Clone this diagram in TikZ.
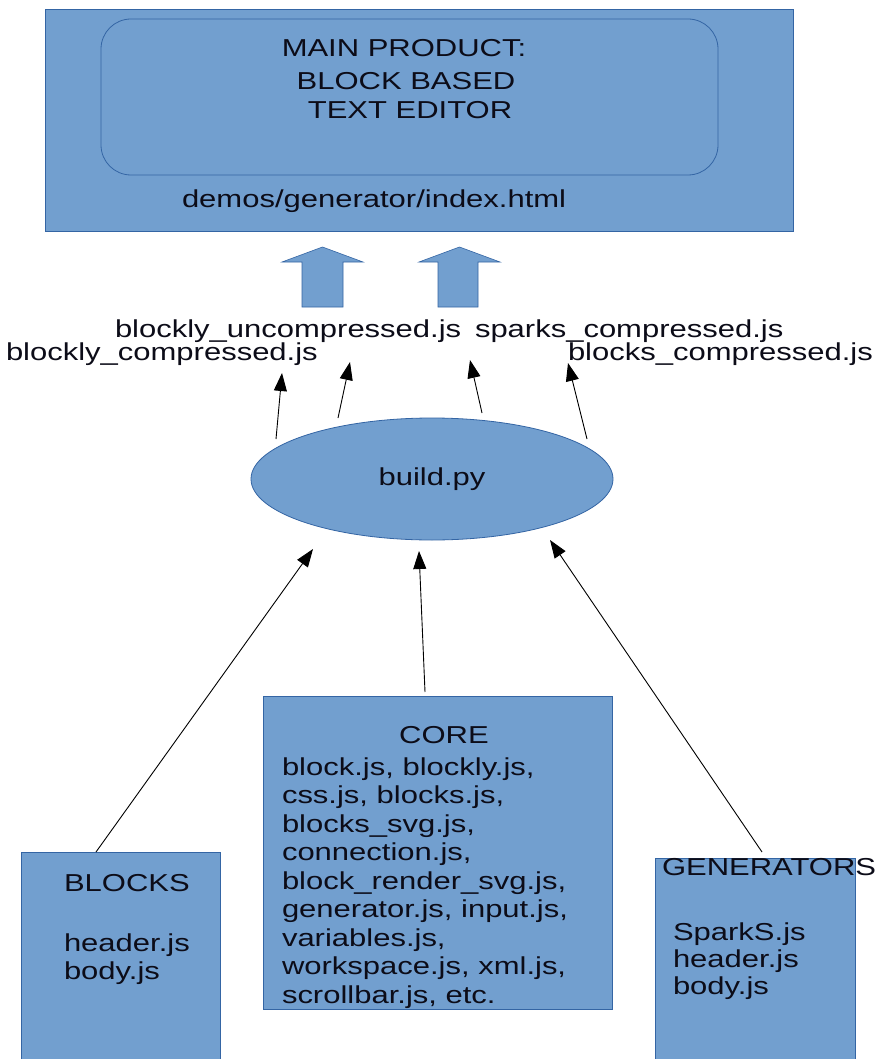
\documentclass[tikz,border=0pt]{standalone}
\usepackage{fontspec}
\setmainfont{Liberation Sans}[FakeStretch=1.265]
\usetikzlibrary{shapes.geometric,arrows.meta}
\definecolor{boxfill}{HTML}{729FCF}
\definecolor{boxline}{HTML}{3465A4}
\definecolor{ink}{HTML}{0C0C18}

\begin{document}
\begin{tikzpicture}[x=1pt,y=-1pt,
  every node/.style={inner sep=0pt, outer sep=0pt, text=ink,
                     font=\fontsize{24.5}{28}\selectfont},
  panel/.style={draw=boxline, fill=boxfill, line width=0.8pt},
  txt/.style={anchor=base west},
  ctxt/.style={anchor=base},
  link/.style={draw=black, line width=0.9pt, -{Triangle[length=18pt,width=13pt]}},
  fatarrow/.style={draw=boxline, fill=boxfill, line width=0.6pt, line join=miter}]

\useasboundingbox (0,0) rectangle (879,1059);
\fill[white] (0,0) rectangle (879,1059);

% product panel with its inner rounded frame
\node[panel, rectangle, minimum width=748pt, minimum height=222pt] (main) at (419,120) {};
\node[panel, rectangle, rounded corners=30pt, minimum width=617pt, minimum height=156pt] (product) at (409.5,97) {};
\node[ctxt] (title1) at (404,57) {MAIN PRODUCT:};
\node[ctxt] (title2) at (406,90) {BLOCK BASED};
\node[ctxt] (title3) at (410,119) {TEXT EDITOR};
\node[txt] (demo) at (182,208) {demos/generator/index.html};

% two broad arrows feeding the product
\draw[fatarrow] (302,307) -- (302,262) -- (282,262) -- (322.5,247) -- (363,262) -- (343,262) -- (343,307) -- cycle;
\draw[fatarrow] (438,307) -- (438,262) -- (419,262) -- (459.5,247) -- (500,262) -- (478,262) -- (478,307) -- cycle;

% generated files
\node[txt] (uncomp) at (115,337) {blockly\_uncompressed.js};
\node[txt] (sparks) at (475,337) {sparks\_compressed.js};
\node[txt] (bcomp) at (6,360) {blockly\_compressed.js};
\node[txt] (blkcomp) at (568,360) {blocks\_compressed.js};

% build script
\node[panel, ellipse, minimum width=362pt, minimum height=122pt] (build) at (432,479) {build.py};

% source groups
\node[panel, rectangle, minimum width=199pt, minimum height=212pt] (blocks) at (120.5,958) {};
\node[txt] (blocksT) at (64,891) {BLOCKS};
\node[txt] (blocks1) at (64,951) {header.js};
\node[txt] (blocks2) at (64,979) {body.js};

\node[panel, rectangle, minimum width=349pt, minimum height=313pt] (core) at (437.5,852.5) {};
\node[ctxt] (coreT) at (444,743) {CORE};
\node[txt] (core1) at (282,775) {block.js, blockly.js,};
\node[txt] (core2) at (282,803.5) {css.js, blocks.js,};
\node[txt] (core3) at (282,832) {blocks\_svg.js,};
\node[txt] (core4) at (282,860.5) {connection.js,};
\node[txt] (core5) at (282,889) {block\_render\_svg.js,};
\node[txt] (core6) at (282,917.5) {generator.js, input.js,};
\node[txt] (core7) at (282,946) {variables.js,};
\node[txt] (core8) at (282,974.5) {workspace.js, xml.js,};
\node[txt] (core9) at (282,1003) {scrollbar.js, etc.};

\node[panel, rectangle, minimum width=200pt, minimum height=206pt] (gens) at (755,961) {};
\node[txt] (gensT) at (662,875) {GENERATORS};
\node[txt] (gens1) at (673,940) {SparkS.js};
\node[txt] (gens2) at (673,967) {header.js};
\node[txt] (gens3) at (673,994) {body.js};

% arrow end points
\coordinate (oA) at (276,439);
\coordinate (oB) at (338,418);
\coordinate (oC) at (482,413);
\coordinate (oD) at (587,439);
\coordinate (tA) at (282,373);
\coordinate (tB) at (350,362);
\coordinate (tC) at (470,360);
\coordinate (tD) at (568,363);
\coordinate (sBlocks) at (96,852);
\coordinate (sCore) at (425,692);
\coordinate (sGens) at (762,852);
\coordinate (iBlocks) at (313,549);
\coordinate (iCore) at (419,551);
\coordinate (iGens) at (550,540);

% outputs of build.py
\draw[link] (oA) -- (tA);
\draw[link] (oB) -- (tB);
\draw[link] (oC) -- (tC);
\draw[link] (oD) -- (tD);

% inputs of build.py
\draw[link] (sBlocks) -- (iBlocks);
\draw[link] (sCore) -- (iCore);
\draw[link] (sGens) -- (iGens);
\end{tikzpicture}
\end{document}
